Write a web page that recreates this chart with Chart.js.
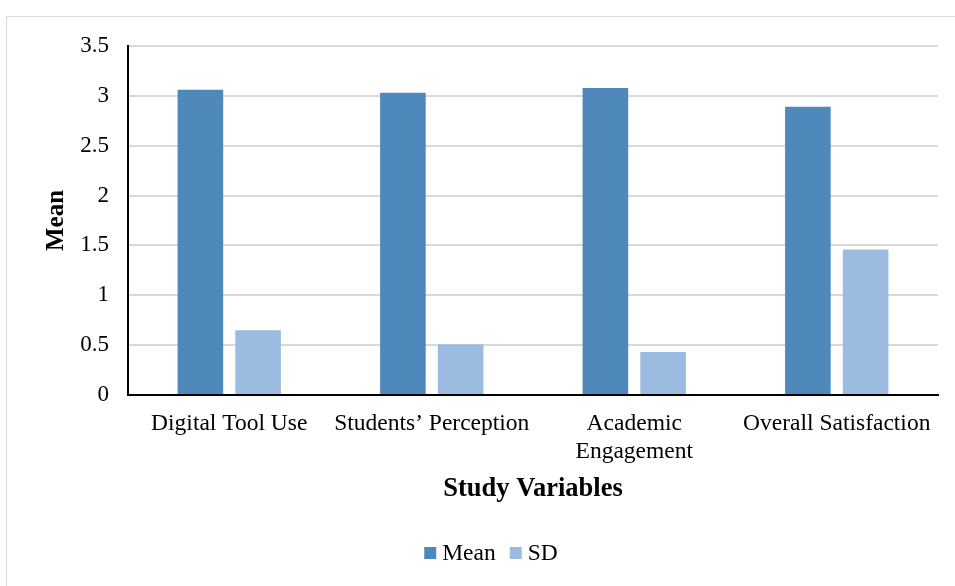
<!DOCTYPE html>
<html>
<head>
<meta charset="utf-8">
<script src="https://cdn.jsdelivr.net/npm/chart.js@4/dist/chart.umd.min.js"></script>
<style>
  html, body { margin: 0; padding: 0; background: #fff; overflow: hidden; }
  #wrap { position: relative; width: 955px; height: 586px; overflow: hidden; }
  #frame { position: absolute; left: 6px; top: 16px; width: 1000px; height: 1000px;
           border: 1.5px solid #d9d9d9; box-sizing: border-box; }
  canvas { position: absolute; left: 0; top: 0; }
</style>
</head>
<body>
<div id="wrap">
  <div id="frame"></div>
  <canvas id="c" width="955" height="586"></canvas>
</div>
<script>
// Study variables on the x axis (multi-line labels as arrays)
const categories = ['Digital Tool Use', 'Students\u2019 Perception', ['Academic', 'Engagement'], 'Overall Satisfaction'];
// Descriptive statistics per variable
const meanValues = [3.06, 3.03, 3.08, 2.89];
const sdValues = [0.65, 0.51, 0.43, 1.46];
// Value axis ticks
const yTicks = [0, 0.5, 1, 1.5, 2, 2.5, 3, 3.5];

const SERIF = '"Liberation Serif", "Times New Roman", serif';

// Legend drawn centred under the chart: small square swatch + label
const swatchLegend = {
  id: 'swatchLegend',
  afterDraw(chart) {
    const ctx = chart.ctx;
    const box = 12, gap = 6, between = 14;
    ctx.save();
    ctx.font = '23.5px ' + SERIF;
    ctx.textBaseline = 'middle';
    const items = chart.data.datasets.map(ds => ({
      label: ds.label, color: ds.backgroundColor, w: ctx.measureText(ds.label).width
    }));
    const total = items.reduce((s, it) => s + box + gap + it.w, 0) + between * (items.length - 1);
    let x = 491 - total / 2;
    const cy = 553;
    items.forEach(it => {
      ctx.fillStyle = it.color;
      ctx.fillRect(x, cy - box / 2, box, box);
      ctx.fillStyle = '#000';
      ctx.fillText(it.label, x + box + gap, cy + 1);
      x += box + gap + it.w + between;
    });
    ctx.restore();
  }
};

new Chart(document.getElementById('c'), {
  type: 'bar',
  data: {
    labels: categories,
    datasets: [
      { label: 'Mean', data: meanValues, backgroundColor: '#4f89bc',
        categoryPercentage: 0.57, barPercentage: 0.79 },
      { label: 'SD', data: sdValues, backgroundColor: '#9cbbe0',
        categoryPercentage: 0.57, barPercentage: 0.79 }
    ]
  },
  options: {
    responsive: false,
    devicePixelRatio: 1,
    animation: false,
    layout: { padding: { top: 46, right: 17, bottom: 60, left: 0 } },
    plugins: {
      legend: { display: false },
      tooltip: { enabled: false }
    },
    scales: {
      x: {
        grid: { display: false },
        border: { display: true, color: '#000', width: 2 },
        ticks: {
          color: '#000', font: { family: SERIF, size: 23.5 },
          maxRotation: 0, autoSkip: false, padding: 7
        },
        title: {
          display: true, text: 'Study Variables', color: '#000',
          font: { family: SERIF, size: 26.5, weight: 'bold' },
          padding: { top: 0, bottom: 21 }
        },
        afterFit(scale) { scale.height = 131; }
      },
      y: {
        min: 0, max: 3.5,
        afterBuildTicks(scale) { scale.ticks = yTicks.map(v => ({ value: v })); },
        grid: { color: '#d9d9d9', lineWidth: 2, drawTicks: false },
        border: { display: true, color: '#000', width: 2 },
        ticks: {
          color: '#000', font: { family: SERIF, size: 23 }, padding: 19,
          callback: v => String(v)
        },
        title: {
          display: true, text: 'Mean', color: '#000',
          font: { family: SERIF, size: 25, weight: 'bold' },
          padding: { top: 42, bottom: 0 }
        },
        afterFit(scale) { scale.width = 128; }
      }
    }
  },
  plugins: [swatchLegend]
});
</script>
</body>
</html>
